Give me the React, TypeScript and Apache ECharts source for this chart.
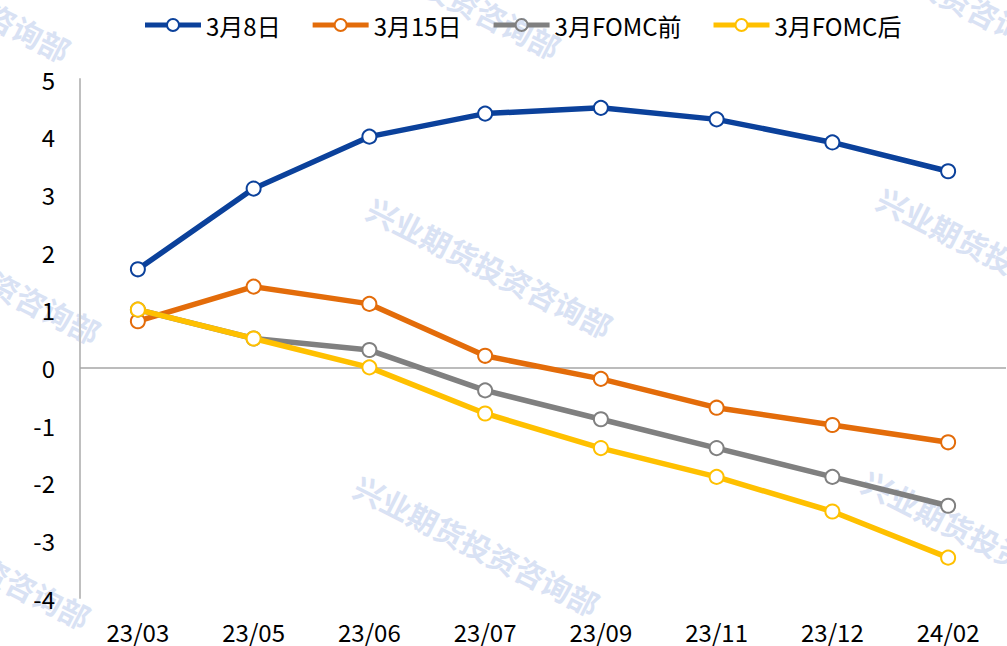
import React, { useEffect, useRef } from "react";
import * as echarts from "echarts";

const categories = ["23/03", "23/05", "23/06", "23/07", "23/09", "23/11", "23/12", "24/02"];
const seriesNames = ["3月8日", "3月15日", "3月FOMC前", "3月FOMC后"];
const mar8 = [1.7, 3.1, 4.0, 4.4, 4.5, 4.3, 3.9, 3.4];
const mar15 = [0.8, 1.4, 1.1, 0.2, -0.2, -0.7, -1.0, -1.3];
const fomcBefore = [1.0, 0.5, 0.3, -0.4, -0.9, -1.4, -1.9, -2.4];
const fomcAfter = [1.0, 0.5, 0.0, -0.8, -1.4, -1.9, -2.5, -3.3];
const colors = ["#0b419b", "#e36c0a", "#808080", "#ffc000"];
const watermarkText = "兴业期货投资咨询部";
const watermarkSpots = [
  [490, 267], [477, 545], [1000, 257], [985, 540],
  [-22, 273], [-32, 558], [438, -12], [-52, -9], [930, -15],
];

const FONT = "'Noto Sans CJK SC', 'Noto Sans', sans-serif";

// legend icon: thick bar with a hollow ring in the middle (56 x 14 box)
const LEGEND_ICON =
  "path://M0,4.5 L22,4.5 L22,9.5 L0,9.5 Z " +
  "M34,4.5 L56,4.5 L56,9.5 L34,9.5 Z " +
  "M21,7 A7,7 0 1,1 35,7 A7,7 0 1,1 21,7 Z " +
  "M23,7 A5,5 0 1,0 33,7 A5,5 0 1,0 23,7 Z";

export default function App() {
  const ref = useRef<HTMLDivElement>(null);
  useEffect(() => {
    if (!ref.current) return;
    const chart = echarts.init(ref.current, null, { renderer: "svg" });
    const dataSets = [mar8, mar15, fomcBefore, fomcAfter];
    const series: any[] = dataSets.map((d, i) => ({
      name: seriesNames[i],
      type: "line",
      data: d,
      symbol: "circle",
      symbolSize: 14,
      z: 3 + i,
      lineStyle: { color: colors[i], width: 5.5, cap: "round", join: "round" },
      itemStyle: { color: "#ffffff", borderColor: colors[i], borderWidth: 2 },
      emphasis: { disabled: true },
    }));
    series[0].markLine = {
      silent: true,
      symbol: "none",
      label: { show: false },
      lineStyle: { color: "#a6a6a6", width: 1.5, type: "solid" },
      data: [{ yAxis: 0 }],
      z: 1,
    };
    chart.setOption({
      animation: false,
      backgroundColor: "#ffffff",
      textStyle: { fontFamily: FONT },
      graphic: watermarkSpots.map(([x, y]) => ({
        type: "text",
        x,
        y,
        rotation: -0.47,
        silent: true,
        z: -1,
        style: {
          text: watermarkText,
          fontSize: 30,
          fontWeight: "bold",
          fontFamily: FONT,
          fill: "#d9e2f4",
          align: "center",
          verticalAlign: "middle",
        },
      })),
      legend: {
        top: 8,
        left: 140,
        itemWidth: 56,
        itemHeight: 14,
        itemGap: 32,
        textStyle: { fontSize: 24, color: "#000", fontFamily: FONT },
        data: seriesNames.map((n, i) => ({
          name: n,
          icon: LEGEND_ICON,
          itemStyle: { color: colors[i], borderWidth: 0 },
        })),
      },
      grid: { left: 80, right: 1, top: 79, bottom: 48, containLabel: false },
      xAxis: {
        type: "category",
        data: categories,
        boundaryGap: true,
        axisLine: { show: false },
        axisTick: { show: false },
        axisLabel: { fontSize: 24, color: "#000", margin: 21, fontFamily: FONT },
        splitLine: { show: false },
      },
      yAxis: {
        type: "value",
        min: -4,
        max: 5,
        interval: 1,
        axisLine: { show: true, lineStyle: { color: "#bfbfbf", width: 2 } },
        axisTick: { show: false },
        splitLine: { show: false },
        axisLabel: { fontSize: 24, color: "#000", margin: 25, fontFamily: FONT },
      },
      series,
    });
    return () => chart.dispose();
  }, []);
  return (
    <div
      ref={ref}
      style={{ position: "absolute", left: 0, top: 0, width: 1007, height: 646 }}
    />
  );
}
